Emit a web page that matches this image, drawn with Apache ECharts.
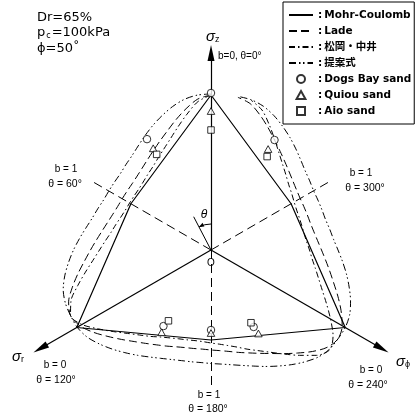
<!DOCTYPE html>
<html>
<head>
<meta charset="utf-8">
<script src="https://cdn.jsdelivr.net/npm/echarts/dist/echarts.min.js"></script>
<style>
  html, body { margin: 0; padding: 0; background: #fff; }
  #chart { width: 416px; height: 415px; }
</style>
</head>
<body>
<div id="chart"></div>
<script>
// π-plane failure surfaces: radius (same units for all curves) against Lode angle θ (deg, counter-clockwise from σz)
const ANGLES = [0,5,10,15,20,25,30,35,40,45,50,55,60,65,70,75,80,85,90,95,100,105,110,115,120,
  125,130,135,140,145,150,155,160,165,170,175,180,185,190,195,200,205,210,215,220,225,230,235,240,
  245,250,255,260,265,270,275,280,285,290,295,300,305,310,315,320,325,330,335,340,345,350,355,360];

// Mohr-Coulomb: straight segments between compression (b=0) and extension (b=1) vertices
const mohrAngles = [0, 60, 120, 180, 240, 300, 360];
const mohrRadius = [155, 92.5, 155, 90, 155, 92.5, 155];

const ladeRadius = [155,151.5,143.5,135,127,120.5,115,110.5,107,104.5,103,102.5,102.5,
  103,104.5,107,110.5,115,120.5,127,135,143.5,151.5,155,
  151.5,143.5,134.5,126.5,119.5,114,109.5,106,103,101,100,99.5,
  100,101,103,106,109.5,114,119.5,126.5,134.5,143.5,151.5,155,
  151.5,143.5,135,127,120.5,115,110.5,107,104.5,103,102.5,102.5,
  103,104.5,107,110.5,115,120.5,127,135,143.5,151.5,155];

const matsuokaRadius = [155,149,138,127.5,118.5,111.5,106,101.5,98.5,96,94.5,94,94,
  94.5,96,98.5,101.5,106,111.5,118.5,127.5,138,149,155,
  149,137.5,127,118,111,105.5,100.5,97,94.5,93,92,92,
  93,94.5,97,100.5,105.5,111,118,127,137.5,149,155,
  149,138,127.5,118.5,111.5,106,101.5,98.5,96,94.5,94,94,
  94.5,96,98.5,101.5,106,111.5,118.5,127.5,138,149,155];

const proposedRadius = [156,155.5,153,148.5,143,137.5,132,127,123,120.5,118.5,118,118,
  118.5,120.5,123,127,132,137.5,143,148.5,153,155,155,
  154.5,151.5,146,140,134,128.5,123.5,119.5,116.5,114.5,113.5,113,
  113.5,114.5,116.5,119.5,123.5,128.5,134,140,146,151.5,154.5,155,
  155,153,148.5,143,137.5,132,127,123,120.5,118.5,118,118,
  118.5,120.5,123,127,132,137.5,143,148.5,153,155.5,156];

// test results: [radius, θ]
const dogsBay = [[157, 0], [128, 30], [89.7, 148], [80, 180], [88, 209], [127, 330]];
const quiou   = [[139, 0], [117, 29.6], [96, 149], [83, 180], [96, 209.6], [116, 330.5]];
const aio     = [[120, 0], [110, 29.6], [82.6, 149], [83, 208.8], [109, 329]];

// principal stress axes and b=1 directions
const axisAngles = [0, 120, 240];
const axisLength = 197;
const extAngles = [60, 180, 300];
const extLength = 135;

const SANS = "'Liberation Sans', Arial, sans-serif";
const DEJA = "'DejaVu Sans', sans-serif";
const LEG = "'DejaVu Sans', 'Noto Sans CJK JP', sans-serif";

// outline symbols that keep their proportions in the legend
const TRIANGLE = 'path://M5,0 L10,9 L0,9 Z';
const SQUARE = 'path://M0,0 L10,0 L10,10 L0,10 Z';

function pairs(radius, angles) { return radius.map((r, i) => [r, angles[i]]); }

const chart = echarts.init(document.getElementById('chart'), null, { renderer: 'canvas' });

const curveBase = {
  type: 'line', coordinateSystem: 'polar', symbol: 'none', showSymbol: false,
  smooth: 0.3, silent: true, z: 3,
  itemStyle: { color: 'rgba(0,0,0,0)', borderWidth: 0 }
};
const pointBase = {
  type: 'scatter', coordinateSystem: 'polar', silent: true, z: 5, symbolKeepAspect: true,
  itemStyle: { color: '#fff', borderColor: '#000', borderWidth: 1 }
};

chart.setOption({
  animation: false,
  backgroundColor: '#fff',
  polar: { center: [211, 250], radius: 205 },
  angleAxis: { type: 'value', min: 0, max: 360, startAngle: 90, clockwise: false, show: false },
  radiusAxis: { type: 'value', min: 0, max: 205, show: false },
  legend: {
    orient: 'vertical', left: 283, top: 2,
    padding: [7, 3, 7, 5],
    borderColor: '#000', borderWidth: 1,
    itemWidth: 24, itemHeight: 8, itemGap: 4,
    symbolKeepAspect: true,
    formatter: ':\u2009{name}',
    textStyle: { fontFamily: LEG, fontWeight: 'bold', fontSize: 10.5, color: '#000', lineHeight: 12 },
    data: ['Mohr-Coulomb', 'Lade', '松岡・中井', '提案式', 'Dogs Bay sand',
      { name: 'Quiou sand', icon: TRIANGLE }, { name: 'Aio sand', icon: SQUARE }]
  },
  series: [
    Object.assign({}, curveBase, { name: 'Mohr-Coulomb', smooth: false,
      data: pairs(mohrRadius, mohrAngles), lineStyle: { color: '#000', width: 1.2 } }),
    Object.assign({}, curveBase, { name: 'Lade',
      data: pairs(ladeRadius, ANGLES), lineStyle: { color: '#000', width: 1, type: [8, 4] } }),
    Object.assign({}, curveBase, { name: '松岡・中井',
      data: pairs(matsuokaRadius, ANGLES), lineStyle: { color: '#000', width: 1, type: [6, 3, 1.5, 3] } }),
    Object.assign({}, curveBase, { name: '提案式',
      data: pairs(proposedRadius, ANGLES), lineStyle: { color: '#000', width: 1, type: [7, 3, 1.5, 2.5, 1.5, 3] } }),
    Object.assign({}, pointBase, { name: 'Dogs Bay sand', symbol: 'circle', symbolSize: 7.5, data: dogsBay }),
    Object.assign({}, pointBase, { name: 'Quiou sand', symbol: TRIANGLE, symbolSize: 7.5, data: quiou }),
    Object.assign({}, pointBase, { name: 'Aio sand', symbol: SQUARE, symbolSize: 6.5, data: aio }),
    {
      name: 'axes', type: 'line', coordinateSystem: 'polar', symbol: 'none', silent: true,
      data: [[0, 0]], z: 2,
      markLine: {
        silent: true, animation: false,
        symbol: ['none', 'triangle'], symbolSize: [7, 16],
        label: { show: false },
        lineStyle: { color: '#000', width: 1.2, type: 'solid' },
        data: axisAngles.map(a => [{ coord: [0, a] }, { coord: [axisLength, a] }])
      }
    },
    {
      name: 'b1', type: 'line', coordinateSystem: 'polar', symbol: 'none', silent: true,
      data: [[0, 0]], z: 2,
      markLine: {
        silent: true, animation: false,
        symbol: ['none', 'none'],
        label: { show: false },
        lineStyle: { color: '#000', width: 1, type: [9, 5] },
        data: extAngles.map(a => [{ coord: [0, a] }, { coord: [extLength, a] }])
      }
    },
    {
      name: 'theta', type: 'line', coordinateSystem: 'polar', symbol: 'none', silent: true,
      data: [[0, 0], [37.5, 27.5]], lineStyle: { color: '#000', width: 1 }, z: 2
    }
  ]
});

// angle mark θ: arc from σz to the θ line with a small arrowhead
const c = chart.convertToPixel({ seriesIndex: 0 }, [0, 0]) || [211, 250];
const R = 26, a0 = -Math.PI / 2 - 27.5 * Math.PI / 180, a1 = -Math.PI / 2;
const tip = [c[0] + R * Math.cos(a0), c[1] + R * Math.sin(a0)];
const tan = [Math.sin(a0), -Math.cos(a0)];
const nrm = [Math.cos(a0), Math.sin(a0)];
const base = [tip[0] - 5 * tan[0], tip[1] - 5 * tan[1]];

function txt(x, y, text, size, align, extra) {
  return { type: 'text', x: x, y: y, silent: true,
    style: Object.assign({ text: text, fontSize: size, fontFamily: SANS, fill: '#000',
      align: align || 'left', verticalAlign: 'middle' }, extra || {}) };
}
function sigma(x, y, sub) {
  return { type: 'text', x: x, y: y, silent: true,
    style: { text: '{a|σ}{b|' + sub + '}', align: 'left', verticalAlign: 'middle', fill: '#000',
      rich: { a: { fontSize: 15, fontStyle: 'italic', fontFamily: SANS },
              b: { fontSize: 9, fontFamily: SANS, verticalAlign: 'bottom', padding: [5, 0, 0, 0] } } } };
}

chart.setOption({
  graphic: [
    { type: 'arc', silent: true, shape: { cx: c[0], cy: c[1], r: R, startAngle: a0, endAngle: a1, clockwise: true },
      style: { stroke: '#000', fill: 'none', lineWidth: 1 } },
    { type: 'polygon', silent: true, shape: { points: [tip,
        [base[0] + 2 * nrm[0], base[1] + 2 * nrm[1]], [base[0] - 2 * nrm[0], base[1] - 2 * nrm[1]]] },
      style: { fill: '#000' } },
    txt(37, 18, 'Dr=65%', 13, 'left', { fontFamily: DEJA }),
    { type: 'text', x: 37, y: 33, silent: true,
      style: { text: 'p{s|c}=100kPa', fontSize: 13, fontFamily: DEJA, fill: '#000',
        align: 'left', verticalAlign: 'middle',
        rich: { s: { fontSize: 8, fontFamily: DEJA, verticalAlign: 'bottom', padding: [4, 1, 0, 1] } } } },
    txt(37, 49, 'ϕ=50˚', 13, 'left', { fontFamily: DEJA }),
    sigma(206, 37, 'z'),
    sigma(12, 357, 'r'),
    sigma(396, 362, 'ϕ'),
    txt(218, 56, 'b=0, θ=0°', 10),
    txt(66, 169, 'b = 1', 10, 'center'),
    txt(65, 184, 'θ = 60°', 10.5, 'center'),
    txt(361, 173, 'b = 1', 10, 'center'),
    txt(365, 188, 'θ = 300°', 10.5, 'center'),
    txt(55, 365, 'b = 0', 10, 'center'),
    txt(56, 380, 'θ = 120°', 10.5, 'center'),
    txt(371, 370, 'b = 0', 10, 'center'),
    txt(368, 385, 'θ = 240°', 10.5, 'center'),
    txt(209, 395, 'b = 1', 10, 'center'),
    txt(208, 409, 'θ = 180°', 10.5, 'center'),
    txt(204, 215, 'θ', 12, 'center', { fontStyle: 'italic' }),
    txt(211, 263, 'O', 10, 'center')
  ]
});
</script>
</body>
</html>
